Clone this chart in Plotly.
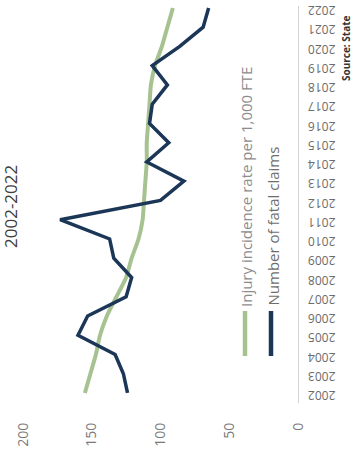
import plotly.graph_objects as go

years = list(range(2002, 2023))
injury_rate = [155, 151, 147, 144, 139, 132, 125, 121, 116, 113, 112, 111, 110, 110, 109, 108, 107, 104, 99, 95, 91]
fatal_claims = [124, 127, 133, 160, 153, 125, 121, 134, 137, 173, 100, 83, 110, 94, 108, 106, 95, 106, 86, 69, 65]
value_ticks = [0, 50, 100, 150, 200]

title_text = "2002-2022"
legend_green = "Injury incidence rate per 1,000 FTE"
legend_navy = "Number of fatal claims"
source_text = "Source: State"

GREEN = "#a6c291"
NAVY = "#1b3656"

W, H = 352, 462
L, R, T, B = 10, 54, 6, 59
PW, PH = W - L - R, H - T - B


def px(x):
    return (x - L) / PW


def py(y):
    return (H - B - y) / PH


fig = go.Figure()
fig.add_trace(go.Scatter(x=injury_rate, y=years, mode="lines", line=dict(color=GREEN, width=4, shape="spline", smoothing=0.6),
                         name=legend_green, showlegend=False))
fig.add_trace(go.Scatter(x=fatal_claims, y=years, mode="lines", line=dict(color=NAVY, width=3.5),
                         name=legend_navy, showlegend=False))

fig.update_layout(
    width=W, height=H, margin=dict(l=L, r=R, t=T, b=B, autoexpand=False),
    paper_bgcolor="white", plot_bgcolor="white",
    font=dict(family="Open Sans, sans-serif", color="#6b6b6b"),
    xaxis=dict(range=[PW / 1.375, 0], tickvals=value_ticks, tickangle=-90, showgrid=False, zeroline=False,
               showline=False, ticks="", ticklabelstandoff=16, tickfont=dict(size=14, color="#7a7a7a")),
    yaxis=dict(range=[2001.48, 2022.1], tickvals=years, side="right", tickangle=180, showgrid=False,
               zeroline=False, showline=True, linecolor="#d4d4d4", linewidth=1, ticks="",
               ticklabelstandoff=34, ticklabelshift=6, ticklabeloverflow="allow",
               tickfont=dict(size=12, color="#6b6b6b")),
)

fig.add_shape(type="line", xref="paper", yref="paper", x0=px(245), x1=px(245), y0=py(311), y1=py(356),
              line=dict(color=GREEN, width=4.5))
fig.add_shape(type="line", xref="paper", yref="paper", x0=px(271), x1=px(271), y0=py(311), y1=py(356),
              line=dict(color=NAVY, width=4.5))

fig.add_annotation(text=legend_green, xref="paper", yref="paper", x=px(246), y=py(309), xanchor="center",
                   yanchor="bottom", textangle=-90, showarrow=False, font=dict(size=15, color="#8c8c8c"))
fig.add_annotation(text=legend_navy, xref="paper", yref="paper", x=px(272), y=py(308), xanchor="center",
                   yanchor="bottom", textangle=-90, showarrow=False, font=dict(size=15, color="#6e6e6e"))
fig.add_annotation(text=title_text, xref="paper", yref="paper", x=px(10), y=py(207), xanchor="center",
                   yanchor="middle", textangle=-90, showarrow=False, font=dict(size=17, color="#3f3f3f"))
fig.add_annotation(text="<b>" + source_text + "</b>", xref="paper", yref="paper", x=px(346), y=py(83), xanchor="center",
                   yanchor="bottom", textangle=-90, showarrow=False, font=dict(size=10, color="#333333"))

fig.write_html("out.html")
